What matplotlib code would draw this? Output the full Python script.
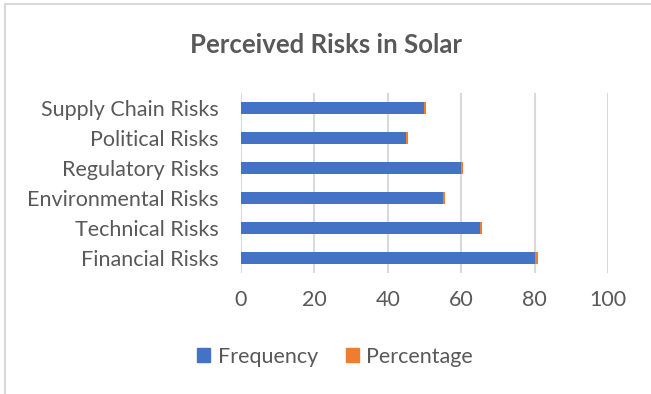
import matplotlib
matplotlib.use("Agg")
import matplotlib.pyplot as plt
from matplotlib.patches import Rectangle
import numpy as np

categories = ["Financial Risks", "Technical Risks", "Environmental Risks",
              "Regulatory Risks", "Political Risks", "Supply Chain Risks"]
frequency = [80, 65, 55, 60, 45, 50]
percentage = [0.80, 0.65, 0.55, 0.60, 0.45, 0.50]
x_ticks = [0, 20, 40, 60, 80, 100]

blue = "#4472C4"
orange = "#ED7D31"
text_color = "#595959"
grid_color = "#D9D9D9"
font = "Lato"

fig = plt.figure(figsize=(6.51, 3.94), dpi=100)
ax = fig.add_axes([0.370, 0.307, 0.564, 0.457])

y = np.arange(len(categories))
ax.barh(y, frequency, height=0.4, color=blue, label="Frequency", zorder=3)
ax.barh(y, percentage, left=frequency, height=0.4, color=orange,
        label="Percentage", zorder=3)

ax.set_xlim(0, 100)
ax.set_ylim(-0.5, len(categories) - 0.5)
ax.set_xticks(x_ticks)
ax.set_xticklabels([str(t) for t in x_ticks])
ax.set_yticks(y)
ax.set_yticklabels(categories)
ax.xaxis.grid(True, color=grid_color, linewidth=1.5, zorder=0)
ax.tick_params(axis="both", length=0, labelsize=15.5, labelcolor=text_color)
ax.tick_params(axis="x", pad=12)
ax.tick_params(axis="y", pad=16)
for lbl in ax.get_xticklabels() + ax.get_yticklabels():
    lbl.set_fontfamily(font)
for side in ax.spines.values():
    side.set_visible(False)

fig.text(0.5, 0.885, "Perceived Risks in Solar", ha="center", va="center",
         fontsize=18.5, fontweight="bold", color=text_color, family=font)

handles = [Rectangle((0, 0), 1, 1, color=blue), Rectangle((0, 0), 1, 1, color=orange)]
fig.legend(handles, ["Frequency", "Percentage"], loc="center",
           bbox_to_anchor=(0.515, 0.095), ncol=2, frameon=False,
           prop={"family": font, "size": 15.5}, labelcolor=text_color,
           handlelength=0.6, handleheight=0.6, handletextpad=0.35,
           columnspacing=1.3)

# outer chart frame (top and left edges)
fig.add_artist(plt.Line2D([0.007, 0.007], [0, 0.99], color="#D9D9D9",
                          linewidth=1.5, transform=fig.transFigure))
fig.add_artist(plt.Line2D([0.007, 1.0], [0.99, 0.99], color="#D9D9D9",
                          linewidth=1.5, transform=fig.transFigure))

fig.savefig("out.png", dpi=100, facecolor="white")
